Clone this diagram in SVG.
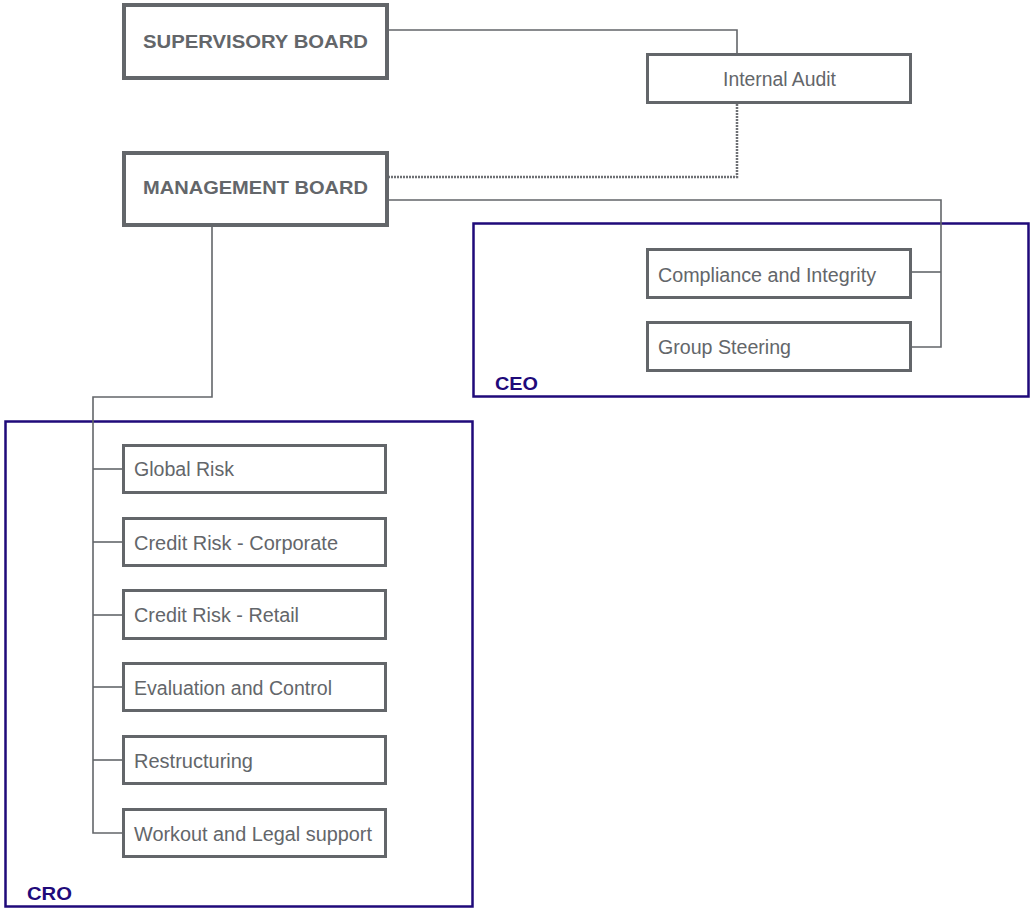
<svg xmlns="http://www.w3.org/2000/svg" width="1032" height="908" viewBox="0 0 1032 908">
<style>
.board{fill:#fff;stroke:#63666a;stroke-width:4}
.box{fill:#fff;stroke:#63666a;stroke-width:3}
.grp{fill:none;stroke:#1f0a7a;stroke-width:2.5}
.ln{fill:none;stroke:#63666a;stroke-width:1.6}
.dash{fill:none;stroke:#6e7074;stroke-width:2.5;stroke-dasharray:2 1}
.bt{font-family:"Liberation Sans",Arial,sans-serif;font-weight:bold;font-size:19px;fill:#63666a}
.t{font-family:"Liberation Sans",Arial,sans-serif;font-size:19.5px;fill:#63666a}
.gl{font-family:"Liberation Sans",Arial,sans-serif;font-weight:bold;font-size:18px;fill:#1f0a7a}
</style>
<rect width="1032" height="908" fill="#fff"/>
<g id="ceo-group"><rect class="grp" x="473.5" y="223.5" width="555" height="173"/><text class="gl" x="495" y="389.5" textLength="43" lengthAdjust="spacingAndGlyphs">CEO</text></g>
<g id="cro-group"><rect class="grp" x="5.5" y="421.5" width="467" height="485"/><text class="gl" x="27" y="899.5" textLength="45" lengthAdjust="spacingAndGlyphs">CRO</text></g>
<g id="connectors">
<polyline class="ln" points="389,30 737,30 737,53"/>
<polyline class="dash" points="737,104 737,177 389,177"/>
<polyline class="ln" points="389,200 941,200 941,347 911,347"/>
<line class="ln" x1="911" y1="272" x2="941" y2="272"/>
<polyline class="ln" points="212,227 212,397 93,397 93,833 123,833"/>
<line class="ln" x1="93" y1="469" x2="123" y2="469"/>
<line class="ln" x1="93" y1="542" x2="123" y2="542"/>
<line class="ln" x1="93" y1="615" x2="123" y2="615"/>
<line class="ln" x1="93" y1="687" x2="123" y2="687"/>
<line class="ln" x1="93" y1="760" x2="123" y2="760"/>
</g>
<g id="supervisory-board"><rect class="board" x="124" y="5" width="263" height="73"/><text class="bt" x="143" y="48" textLength="225" lengthAdjust="spacingAndGlyphs">SUPERVISORY BOARD</text></g>
<g id="management-board"><rect class="board" x="124" y="153" width="263" height="72"/><text class="bt" x="143" y="194" textLength="225" lengthAdjust="spacingAndGlyphs">MANAGEMENT BOARD</text></g>
<g id="internal-audit"><rect class="box" x="647.5" y="54.5" width="263" height="48"/><text class="t" x="723" y="86" textLength="113" lengthAdjust="spacingAndGlyphs">Internal Audit</text></g>
<g id="compliance"><rect class="box" x="647.5" y="249.5" width="263" height="48"/><text class="t" x="658" y="282" textLength="218" lengthAdjust="spacingAndGlyphs">Compliance and Integrity</text></g>
<g id="group-steering"><rect class="box" x="647.5" y="322.5" width="263" height="48"/><text class="t" x="658" y="354" textLength="133" lengthAdjust="spacingAndGlyphs">Group Steering</text></g>
<g id="global-risk"><rect class="box" x="123.5" y="445.5" width="262" height="47"/><text class="t" x="134" y="476" textLength="100" lengthAdjust="spacingAndGlyphs">Global Risk</text></g>
<g id="credit-risk-corporate"><rect class="box" x="123.5" y="518.5" width="262" height="47"/><text class="t" x="134" y="550" textLength="204" lengthAdjust="spacingAndGlyphs">Credit Risk - Corporate</text></g>
<g id="credit-risk-retail"><rect class="box" x="123.5" y="590.5" width="262" height="48"/><text class="t" x="134" y="622" textLength="165" lengthAdjust="spacingAndGlyphs">Credit Risk - Retail</text></g>
<g id="evaluation-control"><rect class="box" x="123.5" y="663.5" width="262" height="47"/><text class="t" x="134" y="695" textLength="198" lengthAdjust="spacingAndGlyphs">Evaluation and Control</text></g>
<g id="restructuring"><rect class="box" x="123.5" y="736.5" width="262" height="47"/><text class="t" x="134" y="768" textLength="119" lengthAdjust="spacingAndGlyphs">Restructuring</text></g>
<g id="workout-legal"><rect class="box" x="123.5" y="809.5" width="262" height="47"/><text class="t" x="134" y="841" textLength="238" lengthAdjust="spacingAndGlyphs">Workout and Legal support</text></g>
</svg>
